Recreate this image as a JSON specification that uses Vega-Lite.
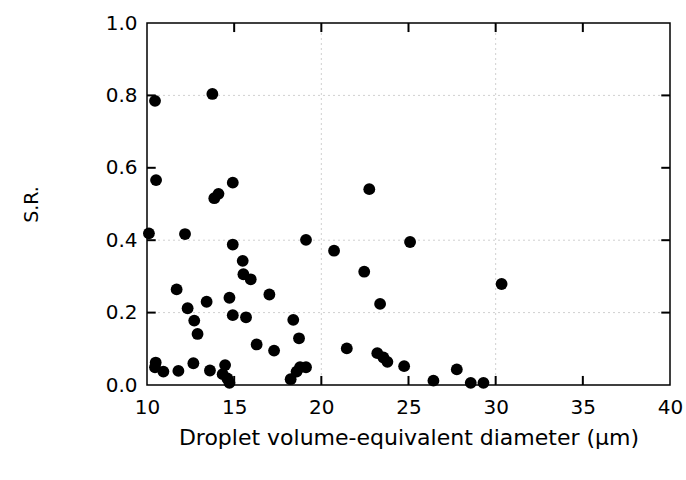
{
  "$schema": "https://vega.github.io/schema/vega-lite/v6.json",
  "autosize": "none",
  "width": 523,
  "height": 362,
  "padding": {"left": 147, "top": 23, "right": 16, "bottom": 95},
  "background": "white",
  "config": {
    "font": "DejaVu Sans",
    "view": {"stroke": "black", "strokeWidth": 1.5},
    "axis": {"grid": false, "domain": false, "ticks": false, "labelFlush": false}
  },
  "datasets": {
    "pts": [
      {"d": 10.46, "sr": 0.785},
      {"d": 13.75, "sr": 0.804},
      {"d": 10.52, "sr": 0.566},
      {"d": 13.86, "sr": 0.516},
      {"d": 14.1, "sr": 0.528},
      {"d": 14.92, "sr": 0.559},
      {"d": 10.11, "sr": 0.419},
      {"d": 12.18, "sr": 0.417},
      {"d": 14.92, "sr": 0.388},
      {"d": 15.49, "sr": 0.343},
      {"d": 15.53, "sr": 0.306},
      {"d": 15.95, "sr": 0.292},
      {"d": 17.02, "sr": 0.25},
      {"d": 11.7, "sr": 0.264},
      {"d": 13.42, "sr": 0.23},
      {"d": 14.73, "sr": 0.241},
      {"d": 12.33, "sr": 0.212},
      {"d": 14.92, "sr": 0.193},
      {"d": 15.68, "sr": 0.187},
      {"d": 12.71, "sr": 0.178},
      {"d": 12.9, "sr": 0.141},
      {"d": 16.29, "sr": 0.112},
      {"d": 17.29, "sr": 0.095},
      {"d": 10.5, "sr": 0.062},
      {"d": 10.46, "sr": 0.049},
      {"d": 10.94, "sr": 0.037},
      {"d": 11.8, "sr": 0.039},
      {"d": 12.66, "sr": 0.06},
      {"d": 13.61, "sr": 0.04},
      {"d": 14.48, "sr": 0.055},
      {"d": 14.34, "sr": 0.03},
      {"d": 14.61, "sr": 0.018},
      {"d": 14.73, "sr": 0.006},
      {"d": 22.75, "sr": 0.541},
      {"d": 19.12, "sr": 0.401},
      {"d": 25.09, "sr": 0.395},
      {"d": 20.73, "sr": 0.371},
      {"d": 22.46, "sr": 0.313},
      {"d": 23.37, "sr": 0.224},
      {"d": 18.39, "sr": 0.18},
      {"d": 18.72, "sr": 0.129},
      {"d": 21.46, "sr": 0.101},
      {"d": 23.21, "sr": 0.088},
      {"d": 23.56, "sr": 0.076},
      {"d": 23.79, "sr": 0.064},
      {"d": 24.75, "sr": 0.052},
      {"d": 18.78, "sr": 0.049},
      {"d": 19.12, "sr": 0.049},
      {"d": 18.58, "sr": 0.037},
      {"d": 18.24, "sr": 0.016},
      {"d": 30.34, "sr": 0.279},
      {"d": 26.43, "sr": 0.012},
      {"d": 27.77, "sr": 0.043},
      {"d": 28.57, "sr": 0.006},
      {"d": 29.3, "sr": 0.006}
    ],
    "vgrid": [{"d": 20}, {"d": 30}],
    "hgrid": [{"sr": 0.2}, {"sr": 0.4}, {"sr": 0.8}],
    "xticks": [{"d": 15}, {"d": 20}, {"d": 25}, {"d": 30}, {"d": 35}],
    "yticks": [{"sr": 0.2}, {"sr": 0.4}, {"sr": 0.6}, {"sr": 0.8}]
  },
  "layer": [
    {
      "data": {"name": "vgrid"},
      "mark": {"type": "rule", "color": "#d0d0d0", "strokeDash": [2, 3], "strokeWidth": 1},
      "encoding": {
        "x": {"field": "d", "type": "quantitative", "scale": {"domain": [10, 40], "nice": false, "zero": false}}
      }
    },
    {
      "data": {"name": "hgrid"},
      "mark": {"type": "rule", "color": "#d0d0d0", "strokeDash": [2, 3], "strokeWidth": 1},
      "encoding": {
        "y": {"field": "sr", "type": "quantitative", "scale": {"domain": [0, 1], "nice": false}}
      }
    },
    {
      "data": {"name": "pts"},
      "mark": {"type": "circle", "color": "black", "opacity": 1, "size": 140},
      "encoding": {
        "x": {
          "field": "d", "type": "quantitative",
          "scale": {"domain": [10, 40], "nice": false, "zero": false},
          "axis": {
            "title": "Droplet volume-equivalent diameter (μm)",
            "values": [10, 15, 20, 25, 30, 35, 40],
            "grid": false, "domain": false, "ticks": false, "labelFlush": false,
            "labelFontSize": 20, "labelColor": "black", "labelPadding": 12,
            "titleFontSize": 22, "titleFontWeight": "normal", "titleColor": "black", "titlePadding": 10
          }
        },
        "y": {
          "field": "sr", "type": "quantitative",
          "scale": {"domain": [0, 1], "nice": false},
          "axis": {
            "title": "S.R.",
            "values": [0, 0.2, 0.4, 0.6, 0.8, 1.0],
            "format": ".1f",
            "grid": false, "domain": false, "ticks": false, "labelFlush": false,
            "labelFontSize": 20, "labelColor": "black", "labelPadding": 10,
            "titleFontSize": 19, "titleFontWeight": "normal", "titleColor": "black", "titlePadding": 64
          }
        }
      }
    },
    {
      "data": {"name": "xticks"},
      "mark": {"type": "rule", "color": "black", "strokeWidth": 2},
      "encoding": {
        "x": {"field": "d", "type": "quantitative"},
        "y": {"datum": 0, "type": "quantitative"},
        "y2": {"datum": 0.025}
      }
    },
    {
      "data": {"name": "xticks"},
      "mark": {"type": "rule", "color": "black", "strokeWidth": 2},
      "encoding": {
        "x": {"field": "d", "type": "quantitative"},
        "y": {"datum": 1, "type": "quantitative"},
        "y2": {"datum": 0.975}
      }
    },
    {
      "data": {"name": "yticks"},
      "mark": {"type": "rule", "color": "black", "strokeWidth": 2},
      "encoding": {
        "y": {"field": "sr", "type": "quantitative"},
        "x": {"datum": 10, "type": "quantitative"},
        "x2": {"datum": 10.5}
      }
    },
    {
      "data": {"name": "yticks"},
      "mark": {"type": "rule", "color": "black", "strokeWidth": 2},
      "encoding": {
        "y": {"field": "sr", "type": "quantitative"},
        "x": {"datum": 40, "type": "quantitative"},
        "x2": {"datum": 39.5}
      }
    }
  ]
}
